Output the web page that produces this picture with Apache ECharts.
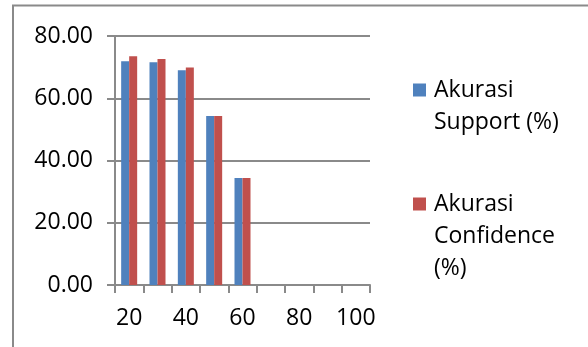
<!DOCTYPE html>
<html>
<head>
<meta charset="utf-8">
<script src="https://cdn.jsdelivr.net/npm/echarts@6/dist/echarts.min.js"></script>
<style>
  html, body { margin: 0; padding: 0; background: #fff; }
  #chart { width: 588px; height: 347px; }
</style>
</head>
<body>
<div id="chart"></div>
<script>
// Minimum support thresholds on the x axis
const categories = ['20', '30', '40', '50', '60', '70', '80', '90', '100'];
// Accuracy per threshold (%); no results above 60
const akurasiSupport = [71.9, 71.6, 69.0, 54.3, 34.4, null, null, null, null];
const akurasiConfidence = [73.5, 72.6, 69.9, 54.3, 34.4, null, null, null, null];
// Value-axis range and step
const yMin = 0, yMax = 80, yStep = 20;

const FONT = '"Open Sans", sans-serif';
const GRAY = '#8a8a8a';
const SERIES_SUPPORT = 'Akurasi Support (%)';
const SERIES_CONF = 'Akurasi Confidence (%)';

// Legend text is wrapped; leading blank lines keep the first line level with the swatch
const legendLabels = {
  [SERIES_SUPPORT]: '\n{t|Akurasi}\n{t|Support (%)}',
  [SERIES_CONF]: '\n\n{t|Akurasi}\n{t|Confidence}\n{t|(%)}'
};

const chart = echarts.init(document.getElementById('chart'), null, { renderer: 'canvas' });

function legendFor(name, top) {
  return {
    data: [name],
    orient: 'vertical',
    left: 413,
    top: top,
    padding: 0,
    itemWidth: 13,
    itemHeight: 13,
    icon: 'rect',
    formatter: n => legendLabels[n],
    textStyle: {
      fontFamily: FONT, fontSize: 23, color: '#000', lineHeight: 32,
      rich: { t: { fontFamily: FONT, fontSize: 23, color: '#000', lineHeight: 32, padding: [0, 0, 0, 3] } }
    }
  };
}

chart.setOption({
  animation: false,
  backgroundColor: '#ffffff',
  textStyle: { fontFamily: FONT },
  graphic: [{
    type: 'polyline',
    shape: { points: [[13, 347], [13, 5.5], [588, 5.5]] },
    style: { stroke: GRAY, lineWidth: 2, fill: null },
    silent: true
  }],
  grid: { left: 115, right: 218, top: 36, bottom: 62, containLabel: false },
  legend: [legendFor(SERIES_SUPPORT, 42), legendFor(SERIES_CONF, 124)],
  xAxis: {
    type: 'category',
    data: categories,
    boundaryGap: true,
    axisLine: { show: true, lineStyle: { color: GRAY, width: 2 } },
    axisTick: { show: true, length: 8, interval: 0, alignWithLabel: false, lineStyle: { color: GRAY, width: 2 } },
    axisLabel: { interval: 1, margin: 22, fontFamily: FONT, fontSize: 23, color: '#000' },
    splitLine: { show: false }
  },
  yAxis: {
    type: 'value',
    min: yMin,
    max: yMax,
    interval: yStep,
    axisLine: { show: true, lineStyle: { color: GRAY, width: 2 } },
    axisTick: { show: true, length: 8, lineStyle: { color: GRAY, width: 2 } },
    axisLabel: {
      margin: 22,
      fontFamily: FONT,
      fontSize: 23,
      color: '#000',
      formatter: v => v.toFixed(2)
    },
    splitLine: { show: true, lineStyle: { color: GRAY, width: 2 } }
  },
  series: [{
    name: SERIES_SUPPORT,
    type: 'bar',
    data: akurasiSupport,
    barWidth: 8,
    barGap: '0%',
    itemStyle: { color: '#4F81BD' }
  }, {
    name: SERIES_CONF,
    type: 'bar',
    data: akurasiConfidence,
    barWidth: 8,
    barGap: '0%',
    itemStyle: { color: '#C0504D' }
  }]
});
</script>
</body>
</html>
